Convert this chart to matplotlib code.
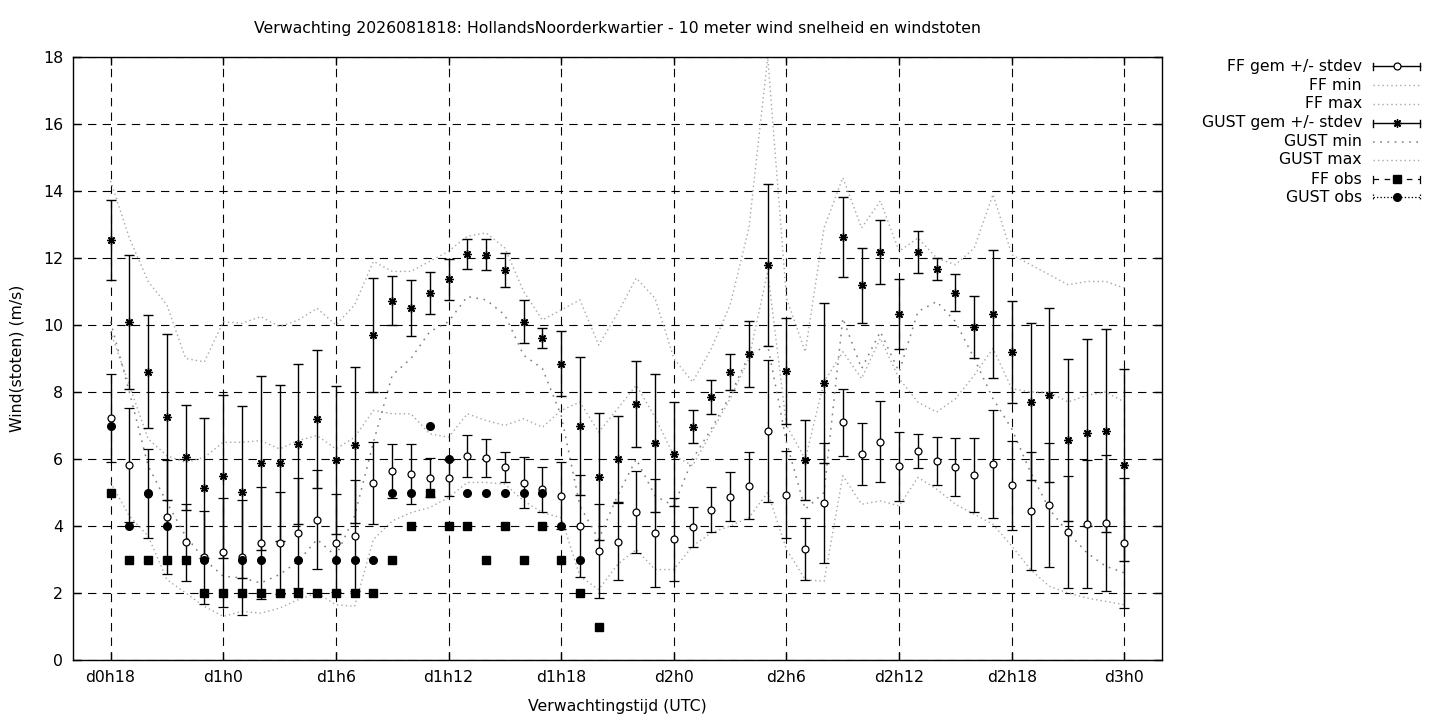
import numpy as np
import matplotlib
matplotlib.use("Agg")
import matplotlib.pyplot as plt
from matplotlib.lines import Line2D

plt.rcParams['font.family'] = ['DejaVu Sans']
plt.rcParams['lines.scale_dashes'] = False

# ---------------- data ----------------
hours = list(range(18, 73))  # forecast hours d0h18 .. d3h0

ff_mean = [7.22, 5.82, 4.96, 4.26, 3.52, 3.06, 3.21, 3.06, 3.49, 3.49, 3.79, 4.19, 3.49, 3.71,
           5.28, 5.64, 5.55, 5.44, 5.44, 6.09, 6.03, 5.76, 5.29, 5.09, 4.91, 4.00, 3.26, 3.53,
           4.42, 3.79, 3.61, 3.97, 4.48, 4.88, 5.20, 6.84, 4.93, 3.32, 4.69, 7.09, 6.15, 6.52,
           5.79, 6.25, 5.94, 5.76, 5.53, 5.85, 5.22, 4.46, 4.63, 3.82, 4.06, 4.09, 3.49]
ff_std = [1.32, 1.69, 1.33, 1.70, 1.15, 1.40, 1.62, 1.72, 1.67, 1.52, 1.64, 1.48, 1.47, 1.65,
          1.23, 0.81, 0.90, 0.58, 0.54, 0.62, 0.56, 0.46, 0.76, 0.67, 1.00, 1.53, 1.40, 1.15,
          1.22, 1.60, 1.24, 0.59, 0.67, 0.74, 1.00, 2.13, 1.30, 0.92, 1.79, 1.00, 0.93, 1.20,
          1.03, 0.51, 0.71, 0.87, 1.11, 1.61, 1.33, 1.76, 1.86, 1.68, 1.92, 2.02, 1.93]
ff_min = [5.3, 4.3, 3.7, 2.4, 2.0, 1.6, 1.3, 1.45, 1.4, 1.55, 1.8, 2.0, 1.65, 1.6,
          3.6, 4.15, 4.4, 4.55, 4.85, 5.3, 5.3, 5.25, 4.75, 4.4, 4.25, 2.5, 2.1, 2.85,
          3.3, 2.7, 2.7, 3.4, 3.8, 4.0, 4.25, 5.0, 3.3, 2.4, 2.35, 5.5, 4.65, 4.75,
          4.6, 5.45, 5.1, 4.65, 4.35, 4.05, 3.4, 2.7, 2.2, 2.0, 1.85, 1.75, 1.65]
ff_max = [9.8, 8.2, 6.6, 6.1, 5.9, 6.05, 6.5, 6.5, 6.55, 6.3, 6.55, 6.7, 6.3, 6.65,
          7.45, 7.35, 7.35, 6.75, 6.65, 7.35, 7.15, 7.0, 7.2, 6.95, 7.45, 7.7, 6.8, 7.5,
          8.2, 7.25, 6.1, 5.8, 6.8, 7.8, 9.0, 11.6, 7.0, 6.0, 8.3, 9.2, 8.4, 9.6,
          8.4, 7.7, 7.4, 7.8, 8.5, 9.3, 8.1, 8.0, 8.0, 7.7, 7.9, 8.0, 7.7]

gust_mean = [12.54, 10.09, 8.61, 7.26, 6.05, 5.13, 5.48, 5.02, 5.88, 5.88, 6.45, 7.19, 5.98, 6.42,
             9.70, 10.72, 10.50, 10.96, 11.37, 12.12, 12.10, 11.64, 10.10, 9.60, 8.84, 6.98, 5.47, 6.00,
             7.64, 6.48, 6.15, 6.97, 7.85, 8.60, 9.13, 11.80, 8.63, 5.97, 8.27, 12.62, 11.19, 12.18,
             10.33, 12.18, 11.67, 10.96, 9.95, 10.33, 9.20, 7.71, 7.91, 6.57, 6.79, 6.85, 5.83]
gust_std = [1.20, 2.00, 1.69, 2.47, 1.56, 2.09, 2.43, 2.56, 2.60, 2.33, 2.39, 2.06, 2.21, 2.32,
            1.70, 0.73, 0.84, 0.62, 0.61, 0.45, 0.46, 0.52, 0.65, 0.30, 0.97, 2.06, 1.89, 1.28,
            1.29, 2.06, 1.55, 0.50, 0.52, 0.54, 0.98, 2.42, 1.58, 1.19, 2.39, 1.19, 1.12, 0.96,
            1.05, 0.63, 0.33, 0.55, 0.93, 1.91, 1.53, 2.34, 2.59, 2.41, 2.79, 3.03, 2.86]
gust_min = [10.1, 8.0, 5.8, 4.7, 3.7, 3.0, 2.5, 2.45, 2.3, 2.55, 2.95, 3.6, 3.1, 4.3,
            6.5, 8.5, 9.0, 9.8, 10.1, 10.85, 10.75, 10.3, 9.1, 8.7, 7.3, 4.6, 3.6, 4.9,
            6.0, 4.9, 4.6, 6.0, 6.9, 7.9, 9.1, 9.4, 6.5, 4.5, 5.0, 10.2, 8.7, 9.8,
            8.6, 10.4, 10.7, 10.1, 9.0, 7.8, 6.9, 5.6, 4.5, 3.8, 3.2, 2.8, 2.6]
gust_max = [14.3, 12.6, 11.3, 10.6, 9.0, 8.9, 10.1, 10.05, 10.25, 9.95, 10.15, 10.5, 10.0, 10.6,
            11.9, 11.6, 11.6, 11.9, 12.2, 12.65, 12.75, 12.3, 11.0, 10.15, 10.45, 10.75, 9.4, 10.35,
            11.4, 10.8, 9.0, 8.3, 9.3, 10.6, 12.9, 18.0, 10.8, 9.2, 12.9, 14.4, 12.9, 13.7,
            12.2, 12.6, 12.0, 11.8, 12.3, 13.9, 12.1, 11.8, 11.5, 11.2, 11.3, 11.3, 11.1]

obs_hours = list(range(18, 45))
ff_obs = [5, 3, 3, 3, 3, 2, 2, 2, 2, 2, 2, 2, 2, 2, 2, 3, 4, 5, 4, 4, 3, 4, 3, 4, 3, 2, 1]
gust_obs = [7, 4, 5, 4, 3, 3, 2, 3, 3, 2, 3, 2, 3, 3, 3, 5, 5, 7, 6, 5, 5, 5, 5, 5, 4, 3, np.nan]

tick_hours = list(range(18, 73, 6))
tick_labels = ["d%dh%d" % (h // 24, h % 24) for h in tick_hours]

title = "Verwachting 2026081818: HollandsNoorderkwartier - 10 meter wind snelheid en windstoten"

# ---------------- figure ----------------
FS = 11.3
W, H = 1440, 720
fig = plt.figure(figsize=(W / 100, H / 100), dpi=100)
L, R, T, B = 73, 1162, 57, 660
ax = fig.add_axes([L / W, 1 - B / H, (R - L) / W, (B - T) / H])

light = '#a6a6a6'
dark = '#7e7e7e'
light_ls = (0, (1.0, 2.2))
dark_ls = (0, (1.2, 4.0))
star = (8, 2, 0)

ax.errorbar(hours, ff_mean, yerr=ff_std, fmt='o', ms=5, mfc='white', mec='black', mew=0.9,
            ecolor='black', elinewidth=1, capsize=3.6, capthick=1, zorder=3)
ax.plot(hours, ff_min, color=light, ls=light_ls, lw=1.0, zorder=2)
ax.plot(hours, ff_max, color=light, ls=light_ls, lw=1.0, zorder=2)
ax.errorbar(hours, gust_mean, yerr=gust_std, fmt='none', ecolor='black', elinewidth=1,
            capsize=3.6, capthick=1, zorder=3)
ax.plot(hours, gust_mean, ls='none', marker=star, ms=6, mec='black', mew=1.0, zorder=4)
ax.plot(hours, gust_min, color=dark, ls=dark_ls, lw=1.1, zorder=2)
ax.plot(hours, gust_max, color=light, ls=light_ls, lw=1.0, zorder=2)
ax.plot(obs_hours, ff_obs, ls='none', marker='s', ms=5.5, color='black', zorder=5)
ax.plot(obs_hours, gust_obs, ls='none', marker='o', ms=5.5, color='black', zorder=6)

ax.set_xlim(16, 74)
ax.set_ylim(0, 18)
ax.set_xticks(tick_hours)
ax.set_xticklabels(tick_labels)
ax.set_yticks(range(0, 19, 2))
ax.tick_params(direction='in', top=True, right=True, length=6, width=1,
               labelsize=FS, pad=7, colors='black')
ax.grid(True, color='black', ls=(0, (6, 4.5)), lw=0.8)
ax.set_axisbelow(True)
for s in ax.spines.values():
    s.set_linewidth(1)
    s.set_color('black')

ax.set_xlabel("Verwachtingstijd (UTC)", fontsize=FS, labelpad=10)
ax.set_ylabel("Wind(stoten) (m/s)", fontsize=FS, labelpad=13)
fig.text((L + R) / 2 / W, 1 - 29 / H, title, ha='center', va='center', fontsize=FS)

# ---------------- legend (gnuplot style, right of plot) ----------------
rows = [66, 85, 104, 123, 142, 160, 179, 197]
labels = ["FF gem +/- stdev", "FF min", "FF max", "GUST gem +/- stdev",
          "GUST min", "GUST max", "FF obs", "GUST obs"]
x_txt, x1, x2 = 1362, 1373, 1420
xm = (x1 + x2) / 2


def fx(px):
    return px / W


def fy(py):
    return 1 - py / H


for lab, y in zip(labels, rows):
    fig.text(fx(x_txt), fy(y), lab, ha='right', va='center', fontsize=FS)

tr = fig.transFigure


def seg(xa, ya, xb, yb, **kw):
    fig.add_artist(Line2D([fx(xa), fx(xb)], [fy(ya), fy(yb)], transform=tr, **kw))


def caps(y, **kw):
    seg(x1, y - 3.5, x1, y + 3.5, **kw)
    seg(x2, y - 3.5, x2, y + 3.5, **kw)


# FF gem
y = rows[0]
seg(x1, y, x2, y, color='black', lw=1)
caps(y, color='black', lw=1)
fig.add_artist(Line2D([fx(xm)], [fy(y)], transform=tr, marker='o', ms=5, mfc='white',
                      mec='black', mew=0.9, ls='none'))
# FF min / FF max
for y in rows[1:3]:
    seg(x1, y, x2, y, color=light, ls=light_ls, lw=1)
# GUST gem
y = rows[3]
seg(x1, y, x2, y, color='black', lw=1)
caps(y, color='black', lw=1)
fig.add_artist(Line2D([fx(xm)], [fy(y)], transform=tr, marker=star, ms=6, mec='black',
                      mew=1, ls='none'))
# GUST min / max
seg(x1, rows[4], x2, rows[4], color=dark, ls=dark_ls, lw=1.1)
seg(x1, rows[5], x2, rows[5], color=light, ls=light_ls, lw=1)
# FF obs
y = rows[6]
seg(x1, y, x2, y, color='black', ls=(0, (4, 4)), lw=0.9)
caps(y, color='black', lw=0.9)
fig.add_artist(Line2D([fx(xm)], [fy(y)], transform=tr, marker='s', ms=5.5, color='black',
                      ls='none'))
# GUST obs
y = rows[7]
seg(x1, y, x2, y, color='black', ls=(0, (1, 1.5)), lw=0.9)
caps(y, color='black', ls=(0, (1, 1.5)), lw=0.9)
fig.add_artist(Line2D([fx(xm)], [fy(y)], transform=tr, marker='o', ms=5.5, color='black',
                      ls='none'))

fig.savefig("out.png", dpi=100)
